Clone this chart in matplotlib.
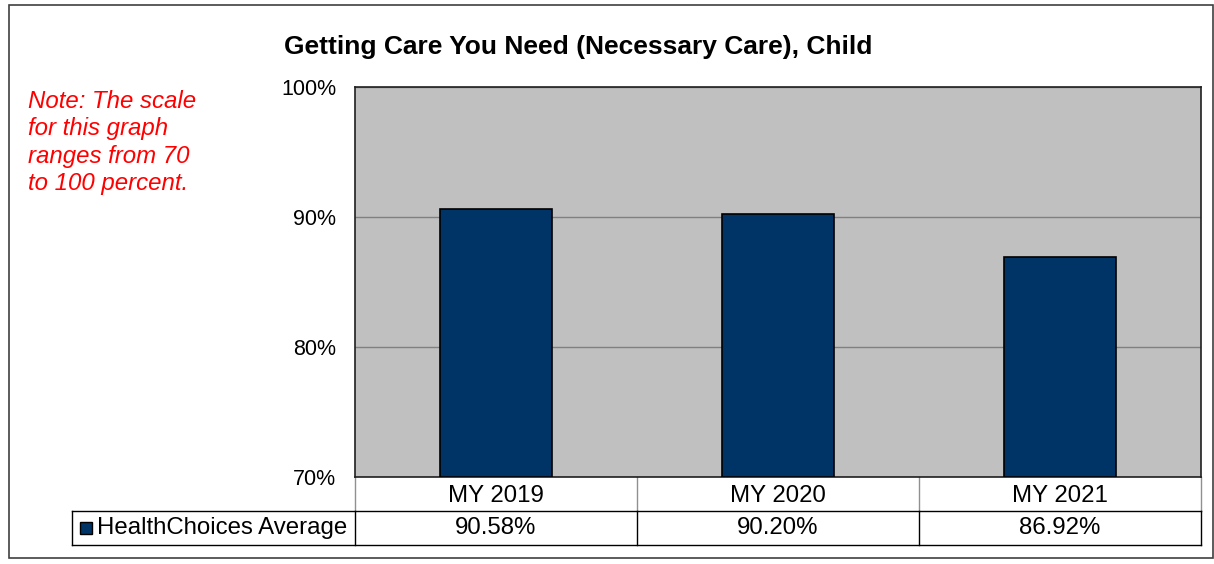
import matplotlib
matplotlib.use('Agg')
import matplotlib.pyplot as plt
from matplotlib.patches import Rectangle

categories = ['MY 2019', 'MY 2020', 'MY 2021']
values = [90.58, 90.20, 86.92]
value_labels = ['90.58%', '90.20%', '86.92%']
series_name = 'HealthChoices Average'
yticks = [70, 80, 90, 100]

plt.rcParams['font.family'] = ['Liberation Sans', 'DejaVu Sans']

W, H = 1214, 564
fig = plt.figure(figsize=(W / 100, H / 100), dpi=100)

# outer chart frame
fig.patches.append(Rectangle((9 / W, 1 - 558 / H), (1213 - 9) / W, (558 - 5) / H,
                             transform=fig.transFigure, fill=False,
                             edgecolor='#404040', linewidth=1.2))

left, right, top, bottom = 355, 1201, 87, 477
ax = fig.add_axes([left / W, 1 - bottom / H, (right - left) / W, (bottom - top) / H])
ax.set_facecolor('#C0C0C0')

x = list(range(len(categories)))
ax.bar(x, [v - 70 for v in values], bottom=70, width=0.4, color='#003366',
       edgecolor='black', linewidth=1.2, zorder=3)
ax.set_xlim(-0.5, 2.5)
ax.set_ylim(70, 100)
ax.set_yticks(yticks)
ax.set_yticklabels([f'{t}%' for t in yticks], fontsize=15.5)
ax.tick_params(axis='y', length=0, pad=13.5)
ax.set_xticks([])
ax.yaxis.grid(True, color='#808080', linewidth=1)
ax.set_axisbelow(True)
for s in ax.spines.values():
    s.set_color('#202020')
    s.set_linewidth(1.2)

ax.set_title('Getting Care You Need (Necessary Care), Child', fontsize=19,
             fontweight='bold', pad=24, x=(578 - left) / (right - left))

# data table below the plot
r1 = -34 / (bottom - top)
r2 = -68 / (bottom - top)
lx = (72 - left) / (right - left)
kw = dict(transform=ax.transAxes, clip_on=False)
ax.plot([0, 0], [0, r1], color='#909090', lw=1, **kw)
ax.plot([1, 1], [0, r1], color='#909090', lw=1, **kw)
for i in range(1, 3):
    ax.plot([i / 3, i / 3], [0, r1], color='#909090', lw=1, **kw)
    ax.plot([i / 3, i / 3], [r1, r2], color='black', lw=1, **kw)
ax.plot([lx, 1], [r1, r1], color='black', lw=1, **kw)
ax.plot([lx, 1], [r2, r2], color='black', lw=1, **kw)
ax.plot([lx, lx], [r1, r2], color='black', lw=1, **kw)
ax.plot([0, 0], [r1, r2], color='black', lw=1, **kw)
ax.plot([1, 1], [r1, r2], color='black', lw=1, **kw)

for i, (c, v) in enumerate(zip(categories, value_labels)):
    ax.text((i + 0.5) / 3, r1 / 2 - 0.004, c, ha='center', va='center', fontsize=17.3, **kw)
    ax.text((i + 0.5) / 3, (r1 + r2) / 2, v, ha='center', va='center', fontsize=17.3, **kw)

mx = (80 - left) / (right - left)
ax.add_patch(Rectangle((mx, (r1 + r2) / 2 - 6 / 390), 12 / 846, 12 / 390,
                       facecolor='#003366', edgecolor='black', lw=1, **kw))
ax.text((97 - left) / (right - left), (r1 + r2) / 2, series_name, ha='left',
        va='center', fontsize=17.3, **kw)

fig.text(28 / W, 1 - 90 / H,
         'Note: The scale\nfor this graph\nranges from 70\nto 100 percent.',
         color='#FF0000', style='italic', fontsize=17.3, ha='left', va='top',
         linespacing=1.24)

fig.savefig('out.png', dpi=100)
